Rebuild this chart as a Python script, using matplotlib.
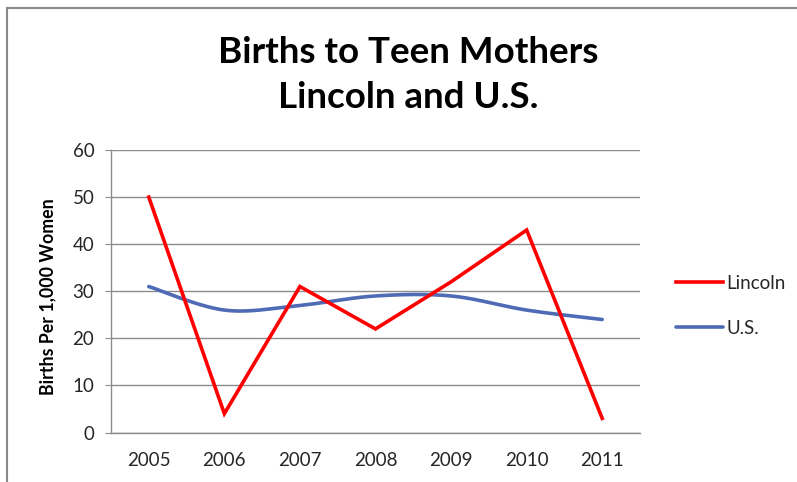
import numpy as np
import matplotlib
matplotlib.use("Agg")
import matplotlib.pyplot as plt
from matplotlib.lines import Line2D

years = ["2005", "2006", "2007", "2008", "2009", "2010", "2011"]
lincoln = [50, 4, 31, 22, 32, 43, 3]
us = [31, 26, 27, 29, 29, 26, 24]
y_ticks = [0, 10, 20, 30, 40, 50, 60]

RED = "#FF0000"
BLUE = "#4F6BB6"
GRID = "#8C8C8C"
FONT = "Lato"


def smooth_curve(xs, ys, n=40):
    """Bezier smoothing through every point (spreadsheet-style smoothed line)."""
    p = np.column_stack([xs, ys]).astype(float)
    ext = np.vstack([p[0], p, p[-1]])
    out = []
    t = np.linspace(0, 1, n)[:, None]
    for i in range(len(p) - 1):
        p0, p3 = ext[i + 1], ext[i + 2]
        c1 = p0 + (ext[i + 2] - ext[i]) / 6.0
        c2 = p3 - (ext[i + 3] - ext[i + 1]) / 6.0
        seg = ((1 - t) ** 3) * p0 + 3 * ((1 - t) ** 2) * t * c1 + 3 * (1 - t) * t ** 2 * c2 + t ** 3 * p3
        out.append(seg if i == 0 else seg[1:])
    pts = np.vstack(out)
    return pts[:, 0], pts[:, 1]


W, H = 797, 482
fig = plt.figure(figsize=(W / 100, H / 100), dpi=100)
fig.patch.set_facecolor("white")

ax = fig.add_axes([111 / W, 1 - 432.5 / H, (640 - 111) / W, (432.5 - 150) / H])
x = np.arange(len(years))

ax.plot(x, lincoln, color=RED, lw=2.6, solid_joinstyle="miter", label="Lincoln", zorder=3)
sx, sy = smooth_curve(x, us)
ax.plot(sx, sy, color=BLUE, lw=2.6, solid_capstyle="round", label="U.S.", zorder=2)

ax.set_xlim(-0.5, len(years) - 0.5)
ax.set_ylim(0, 60)
ax.set_yticks(y_ticks)
ax.set_xticks(x)
ax.set_xticklabels(years)
ax.yaxis.grid(True, color=GRID, lw=1.0)
ax.set_axisbelow(True)
for side in ["top", "right"]:
    ax.spines[side].set_visible(False)
ax.spines["left"].set_color(GRID)
ax.spines["bottom"].set_color(GRID)
ax.spines["left"].set_linewidth(1.0)
ax.spines["bottom"].set_linewidth(1.0)
ax.tick_params(axis="y", length=4, color=GRID, pad=8, labelsize=13.5, labelcolor="#262626")
ax.tick_params(axis="x", length=0, pad=14, labelsize=13.5, labelcolor="#262626")
for lab in ax.get_xticklabels() + ax.get_yticklabels():
    lab.set_fontfamily(FONT)

fig.text(48 / W, 1 - 297 / H, "Births Per 1,000 Women", rotation=90, ha="center", va="center",
         fontsize=12.8, fontweight="bold", family=FONT, color="#000000")

fig.text(408 / W, 1 - 52 / H, "Births to Teen Mothers", ha="center", va="center",
         fontsize=26.5, fontweight="bold", family=FONT, color="#000000")
fig.text(408 / W, 1 - 98 / H, "Lincoln and U.S.", ha="center", va="center",
         fontsize=26.5, fontweight="bold", family=FONT, color="#000000")

leg = ax.legend(loc="center left", bbox_to_anchor=(1.0355, 0.448), frameon=False,
                handlelength=2.5, handletextpad=0.2, labelspacing=1.5,
                prop={"family": FONT, "size": 13.5})
for t in leg.get_texts():
    t.set_color("#262626")

# outer chart frame (left and top edges)
fig.add_artist(Line2D([7 / W, 7 / W], [0, 1 - 8 / H], transform=fig.transFigure, color="#8A8A8A", lw=1.5))
fig.add_artist(Line2D([7 / W, 1], [1 - 8 / H, 1 - 8 / H], transform=fig.transFigure, color="#8A8A8A", lw=1.5))

fig.savefig("out.png", dpi=100, facecolor="white")
